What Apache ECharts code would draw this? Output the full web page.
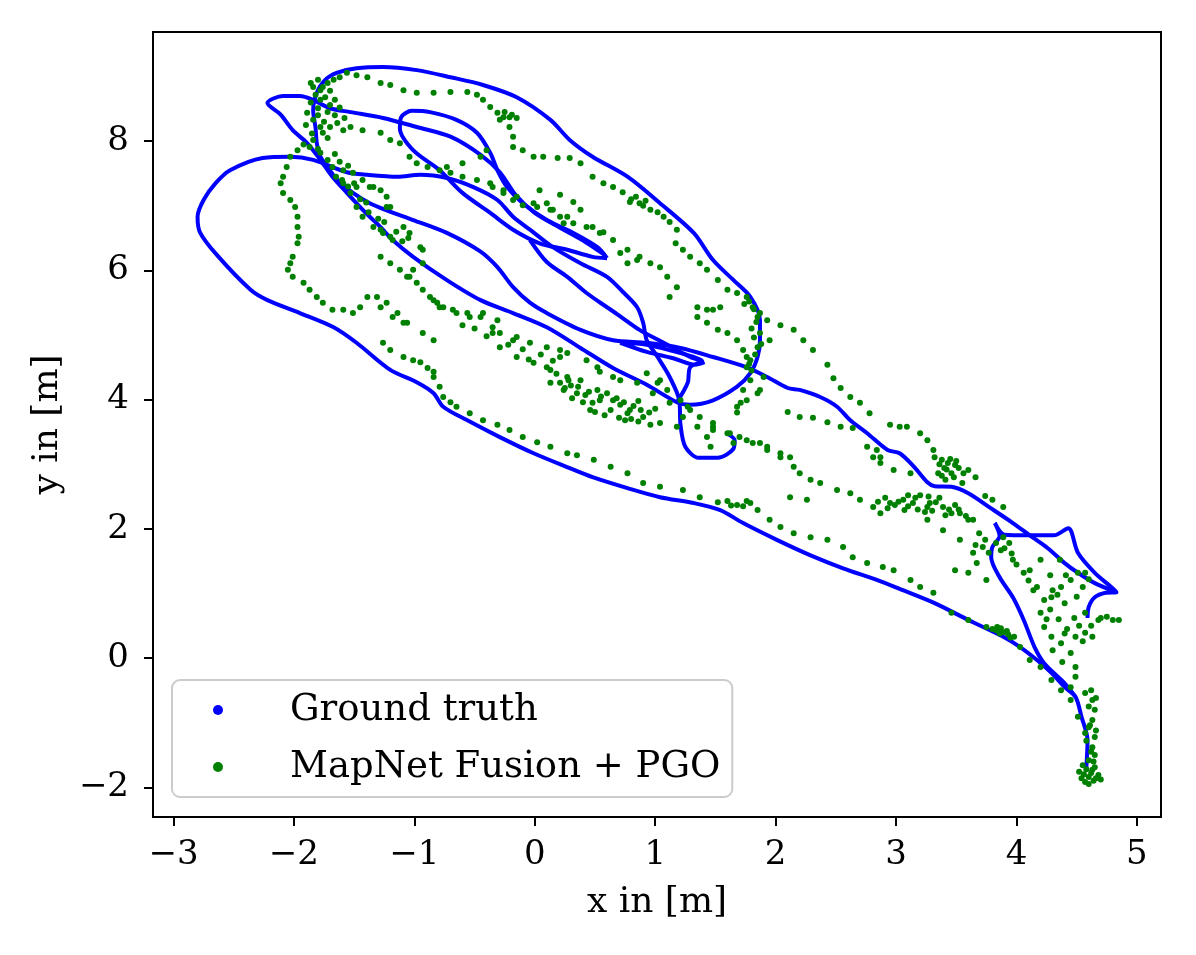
<!DOCTYPE html>
<html>
<head>
<meta charset="utf-8">
<title>Ground truth vs MapNet Fusion + PGO</title>
<script src="https://cdn.jsdelivr.net/npm/echarts@6/dist/echarts.min.js"></script>
<style>
  html, body { margin: 0; padding: 0; background: #fff; }
  #chart { width: 1196px; height: 955px; }
</style>
</head>
<body>
<div id="chart"></div>
<script>
// tick labels
const xTicks = [-3, -2, -1, 0, 1, 2, 3, 4, 5];
const yTicks = [-2, 0, 2, 4, 6, 8];

// ground truth, read off the picture as waypoints of the path
// tail -> lower outer edge -> big left loop -> down into the small lower loop
const truthOuter = [[4.58,-1.70],[4.59,-1.27],[4.54,-0.91],[4.49,-0.60],[4.40,-0.45],[4.29,-0.23],[4.17,-0.03],[4.03,0.17],[3.89,0.33],[3.60,0.59],[3.32,0.85],[3.03,1.07],[2.84,1.21],[2.56,1.39],[2.29,1.59],[2.01,1.83],[1.73,2.09],[1.54,2.29],[1.32,2.40],[1.04,2.49],[0.77,2.63],[0.48,2.80],[0.29,2.94],[-0.01,3.17],[-0.29,3.42],[-0.56,3.68],[-0.76,3.89],[-0.84,4.10],[-0.98,4.27],[-1.20,4.46],[-1.48,4.88],[-1.67,5.12],[-1.95,5.34],[-2.22,5.54],[-2.36,5.70],[-2.64,6.24],[-2.78,6.59],[-2.80,6.83],[-2.75,7.09],[-2.65,7.35],[-2.53,7.55],[-2.26,7.74],[-2.03,7.76],[-1.84,7.71],[-1.56,7.52],[-1.39,7.48],[-1.14,7.45],[-0.95,7.48],[-0.73,7.43],[-0.51,7.29],[-0.31,7.09],[-0.18,6.83],[-0.04,6.63],[0.15,6.36],[0.38,6.11],[0.60,5.90],[0.73,5.67],[0.85,5.43],[0.90,5.19],[0.93,4.92],[1.02,4.66],[1.12,4.35],[1.20,3.99],[1.21,3.61],[1.25,3.27],[1.36,3.10],[1.52,3.10],[1.65,3.24],[1.66,3.37],[1.60,3.47]];
// star point -> long diagonal -> top outer curve -> right side -> beak -> dotted line
const truthMain = [[4.83,1.02],[4.65,1.16],[4.51,1.32],[4.40,1.47],[4.26,1.70],[4.11,1.90],[3.97,2.09],[3.77,2.34],[3.60,2.55],[3.46,2.65],[3.32,2.66],[3.26,2.72],[3.15,2.96],[3.03,3.17],[2.93,3.22],[2.76,3.48],[2.62,3.68],[2.51,3.89],[2.37,4.04],[2.20,4.15],[2.10,4.18],[1.93,4.35],[1.76,4.50],[1.48,4.66],[1.21,4.80],[0.93,4.88],[0.65,4.92],[0.38,5.08],[0.10,5.34],[-0.04,5.50],[-0.18,5.74],[-0.31,6.05],[-0.45,6.29],[-0.73,6.58],[-1.01,6.78],[-1.23,6.93],[-1.37,7.04],[-1.51,7.20],[-1.64,7.40],[-1.72,7.60],[-1.78,7.76],[-1.81,7.97],[-1.82,8.20],[-1.84,8.48],[-1.81,8.75],[-1.74,8.95],[-1.64,9.06],[-1.48,9.13],[-1.26,9.15],[-0.98,9.10],[-0.70,8.99],[-0.43,8.87],[-0.15,8.68],[0.13,8.33],[0.29,8.02],[0.48,7.76],[0.77,7.45],[1.04,7.04],[1.32,6.58],[1.48,6.16],[1.65,5.85],[1.79,5.59],[1.87,5.23],[1.87,4.92],[1.85,4.66],[1.79,4.41],[1.68,4.20],[1.48,3.99],[1.29,3.92],[1.18,3.96],[0.93,4.23],[0.65,4.49],[0.38,4.80],[0.10,5.12],[-0.18,5.34],[-0.45,5.54],[-0.73,5.85],[-1.01,6.21],[-1.18,6.47],[-1.28,6.67],[-1.37,6.83],[-1.45,6.98],[-1.56,7.20],[-1.68,7.45],[-1.78,7.71],[-1.89,7.97],[-2.01,8.17],[-2.11,8.41],[-2.22,8.59],[-2.09,8.70],[-1.95,8.70],[-1.84,8.64],[-1.70,8.51],[-1.53,8.45],[-1.26,8.36],[-0.98,8.22],[-0.70,8.07],[-0.45,7.79],[-0.29,7.52],[-0.16,7.17],[0.00,6.89],[0.21,6.66],[0.42,6.44],[0.58,6.24]];
// narrow inner loop near the top
const truthInner = [[0.60,6.19],[0.52,6.36],[0.32,6.58],[0.10,6.78],[-0.10,7.04],[-0.23,7.29],[-0.31,7.55],[-0.37,7.82],[-0.48,8.13],[-0.65,8.33],[-0.87,8.45],[-1.02,8.47],[-1.11,8.37],[-1.12,8.20],[-1.01,7.86],[-0.79,7.55],[-0.60,7.20],[-0.37,6.89],[-0.18,6.63],[0.04,6.42],[0.27,6.32],[0.48,6.21],[0.60,6.19]];
// the knot in the middle
const truthKnot = [[1.18,3.96],[1.27,4.26],[1.29,4.50],[1.39,4.60],[1.32,4.66],[1.15,4.75],[0.93,4.85],[0.71,4.88],[0.93,4.74],[1.15,4.64],[1.33,4.54],[1.41,4.58]];
const truthLink = [[-0.04,6.47],[0.10,6.13],[0.27,5.90],[0.43,5.65],[0.60,5.43],[0.71,5.29],[0.87,5.08],[1.07,4.88],[1.29,4.66],[1.39,4.60]];
// star shaped turn on the right
const truthStar = [[4.59,0.62],[4.60,0.79],[4.65,0.94],[4.74,1.01],[4.83,1.02],[4.65,1.32],[4.51,1.63],[4.43,2.01],[4.31,1.90],[4.10,1.90],[3.90,1.91],[3.82,2.09],[3.86,1.89],[3.80,1.72],[3.79,1.56],[3.86,1.25],[3.97,0.94],[4.06,0.59],[4.15,0.17],[4.23,-0.08],[4.40,-0.39],[4.49,-0.60]];

// MapNet Fusion + PGO estimates
const mapnetLower = [[-1.26,4.88],[-1.20,4.77],[-1.09,4.66],[-1.01,4.61],[-0.95,4.58],[-0.89,4.49],[-0.84,4.43],[-0.84,4.35],[-0.79,4.20],[-0.76,4.04],[-0.70,3.96],[-0.65,3.89],[-0.54,3.79],[-0.43,3.68],[-0.31,3.61],[-0.21,3.53],[-0.10,3.42],[0.02,3.34],[0.13,3.27],[0.27,3.17],[0.35,3.14],[0.49,3.07],[0.63,2.96],[0.77,2.86],[0.90,2.71],[1.04,2.65],[1.23,2.60],[1.37,2.49],[1.52,2.41],[1.60,2.43],[1.63,2.36],[1.68,2.37],[1.73,2.35],[1.76,2.43],[1.79,2.40],[1.85,2.29],[1.95,2.14],[2.04,2.03],[2.15,1.93],[2.29,1.87],[2.43,1.83],[2.56,1.72],[2.64,1.56],[2.76,1.47],[2.89,1.41],[2.98,1.36],[3.12,1.21],[3.20,1.10],[3.31,1.01],[3.46,0.70],[3.60,0.59],[3.75,0.48],[3.83,0.43],[3.89,0.40],[3.87,0.46],[3.93,0.37],[3.98,0.33],[4.03,0.17],[4.11,-0.03],[4.20,-0.14],[4.29,-0.34],[4.37,-0.50],[4.45,-0.65],[4.51,-0.91],[4.57,-1.16],[4.63,-1.38],[4.60,-1.58],[4.63,-1.73],[4.60,-1.84],[4.65,-1.69],[4.52,-1.76],[4.68,-1.81],[4.57,-1.92],[4.64,-1.90],[4.55,-1.66],[4.65,-1.50],[4.61,-1.04],[3.80,0.45],[3.86,0.38],[3.92,0.42],[3.95,0.32],[3.84,0.48]];
const mapnetTail = [[4.56,-1.80],[4.60,-1.95],[4.66,-1.86],[4.62,-1.78],[4.54,-1.86],[4.70,-1.88],[4.58,-1.72],[4.64,-1.60],[4.62,-1.45],[4.58,-1.28],[4.66,-1.12],[4.60,-0.75],[4.66,-0.62],[4.62,-0.50]];
const mapnetMiddle = [[1.27,3.89],[1.37,3.73],[1.48,3.58],[1.60,3.48],[1.70,3.42],[1.81,3.33],[1.93,3.22],[2.04,3.11],[2.15,2.96],[2.20,2.86],[2.29,2.76],[2.37,2.71],[2.51,2.60],[2.62,2.55],[2.70,2.45],[2.81,2.34],[2.87,2.24],[2.95,2.40],[3.06,2.45],[3.14,2.40],[3.26,2.34],[3.39,2.34],[3.53,2.24],[3.64,2.14],[3.46,2.24],[3.60,2.14],[3.69,1.93],[3.72,1.72],[3.77,1.63],[3.83,1.78],[3.89,1.87],[3.94,1.78],[3.74,1.83],[3.87,1.67],[3.66,1.75],[3.26,2.14],[3.39,1.98],[3.53,1.83],[3.64,1.63],[3.49,1.36],[3.60,1.32],[3.75,1.21],[3.67,1.47],[2.91,2.48],[2.99,2.37],[3.07,2.29],[3.16,2.48],[3.24,2.26],[3.33,2.41],[3.41,2.21],[3.49,2.37],[3.20,2.52],[3.36,2.48],[2.12,2.49],[2.26,2.45],[2.85,2.42],[2.93,2.32],[3.02,2.42],[3.10,2.35],[3.18,2.30],[3.28,2.40],[3.30,2.28],[3.44,2.30],[3.52,2.30],[3.58,2.20],[3.10,2.52],[3.27,2.50]];
const mapnetRight = [[1.93,5.23],[2.04,5.15],[2.15,5.08],[2.23,4.92],[2.31,4.77],[2.43,4.54],[2.48,4.33],[2.54,4.18],[2.62,4.04],[2.70,3.95],[2.78,3.79],[2.95,3.61],[3.03,3.58],[3.09,3.58],[3.20,3.48],[3.26,3.37],[3.31,3.22],[2.10,3.81],[2.20,3.73],[2.31,3.72],[2.43,3.65],[2.54,3.58],[2.64,3.56],[2.76,3.27],[2.84,3.22],[2.87,3.11],[2.81,3.11],[2.87,3.02],[2.98,2.91],[3.12,2.86],[3.32,3.11],[3.38,3.07],[3.43,3.02],[3.35,2.86],[3.46,2.86],[3.41,2.76],[3.60,2.91],[3.66,2.80],[3.55,2.71],[3.49,2.99],[3.40,2.94],[3.74,2.51],[3.80,2.45],[3.89,2.34],[3.36,3.00],[3.45,3.08],[3.50,3.05],[3.42,2.92],[3.52,2.94],[3.38,2.82],[3.48,2.80],[3.56,2.86]];
const mapnetStar = [[3.97,1.52],[4.06,1.32],[4.17,1.10],[4.23,0.90],[4.20,0.70],[4.23,0.48],[4.29,0.33],[4.37,0.23],[4.45,0.08],[4.49,-0.14],[4.49,-0.29],[4.45,-0.45],[4.29,0.94],[4.37,1.10],[4.45,1.21],[4.51,1.32],[4.57,1.32],[4.57,0.70],[4.68,0.59],[4.80,0.59],[4.85,0.59],[4.49,0.33],[4.57,0.39],[4.63,0.33],[4.57,-0.54],[4.63,-0.65],[4.65,-0.80],[4.63,-0.96],[4.60,-1.07],[4.65,-1.22],[4.11,1.36],[4.20,1.52],[4.28,1.28],[4.36,1.52],[4.41,1.28],[3.90,1.70],[3.96,1.62],[4.00,1.45],[4.10,1.20],[4.14,1.05],[4.30,1.05],[4.34,0.98],[4.40,0.85],[4.25,0.60],[4.28,0.75],[4.35,0.60],[4.42,0.45],[4.52,0.50],[4.48,0.62],[4.55,0.26],[4.40,0.38],[4.30,0.12],[4.38,-0.06],[4.55,1.10],[4.50,0.95],[4.60,1.22],[4.70,0.62],[4.75,0.64],[4.62,0.50]];
const mapnetTop = [[-1.56,9.06],[-1.48,9.02],[-1.39,8.99],[-1.28,8.90],[-1.20,8.87],[-1.09,8.79],[-0.98,8.75],[-0.84,8.75],[-0.70,8.76],[-0.56,8.76],[-0.48,8.72],[-0.43,8.64],[-0.37,8.53],[-0.31,8.44],[-0.26,8.37],[-0.21,8.37],[-0.15,8.36],[-0.25,8.45],[-0.19,8.41],[-0.29,8.33],[-0.21,8.22],[-0.18,8.07],[-0.18,7.91],[-0.10,7.86],[-0.01,7.76],[0.07,7.76],[0.19,7.74],[0.29,7.74],[0.38,7.66],[0.48,7.45],[0.57,7.35],[0.65,7.29],[0.73,7.21],[0.79,7.06],[0.87,7.04],[0.96,6.94],[1.02,6.90],[1.07,6.83],[1.12,6.75],[1.18,6.63],[1.17,6.42],[1.23,6.32],[1.29,6.21],[1.37,6.11],[1.43,6.01],[1.52,5.85],[1.60,5.70],[1.68,5.65],[1.76,5.59],[1.81,5.43],[1.87,5.34],[1.85,5.28],[1.87,5.03],[1.85,4.81],[1.79,4.61],[1.76,4.50],[1.79,4.30],[1.85,4.10],[1.76,3.99],[1.68,3.89],[1.95,4.92],[1.90,4.35],[1.87,4.15],[0.80,7.10],[0.84,7.14],[0.90,7.00],[0.92,7.08],[1.74,5.48],[1.78,5.52],[1.82,5.40],[1.84,5.20],[1.80,5.10],[1.82,4.96],[1.88,4.86],[1.83,4.70],[1.78,4.55],[1.80,4.45]];
const mapnetUpper = [[-1.53,8.22],[-1.43,8.17],[-1.28,8.13],[-1.20,8.02],[-1.12,7.97],[-1.04,7.76],[-0.98,7.66],[-0.89,7.60],[-0.79,7.55],[-0.70,7.51],[-0.60,7.45],[-0.48,7.40],[-0.37,7.35],[-0.26,7.24],[-0.15,7.14],[-0.01,7.04],[0.13,6.94],[0.27,6.83],[-0.73,7.60],[-0.60,7.66],[-0.45,7.76],[-0.40,7.86],[-0.35,7.29],[-0.26,7.20],[-0.18,7.09],[-0.10,7.01],[0.02,6.98],[0.10,7.04],[0.15,6.94],[0.21,6.83],[0.32,6.73],[0.43,6.67],[0.54,6.58],[0.65,6.47],[0.04,7.24],[0.21,7.17],[0.32,7.06],[0.38,6.94],[0.24,6.73],[0.48,6.67],[0.57,6.59],[0.71,6.27],[0.77,6.11],[0.85,6.16],[0.96,6.11],[1.04,6.05],[1.10,5.90],[1.18,5.74],[1.12,5.59],[0.77,6.32],[0.87,6.21],[1.35,5.43],[1.43,5.39],[1.54,5.43],[1.35,5.28],[1.48,5.39],[1.43,5.19],[1.52,5.08],[1.60,5.03],[1.68,4.92],[1.73,4.77],[1.76,4.66],[1.73,4.15],[1.71,3.95],[1.68,3.80]];
const mapnetLeft = [[-1.84,8.84],[-1.78,8.79],[-1.72,8.90],[-1.67,8.95],[-1.62,8.99],[-1.82,8.72],[-1.78,8.64],[-1.74,8.68],[-1.70,8.56],[-1.80,8.51],[-1.72,8.45],[-1.66,8.64],[-1.89,8.44],[-1.84,8.33],[-1.78,8.22],[-1.76,8.13],[-1.70,8.22],[-1.64,8.28],[-1.59,8.17],[-1.84,8.02],[-1.87,7.91],[-1.78,7.82],[-1.72,7.71],[-1.68,7.60],[-1.59,7.55],[-1.51,7.51],[-1.43,7.40],[-1.34,7.29],[-1.28,7.24],[-1.23,7.14],[-1.20,6.98],[-1.97,7.86],[-2.03,7.76],[-2.06,7.60],[-2.09,7.45],[-2.11,7.35],[-2.09,7.20],[-2.03,7.09],[-1.99,6.98],[-1.97,6.83],[-1.97,6.67],[-1.96,6.52],[-1.97,6.42],[-2.01,6.21],[-2.03,6.11],[-2.05,6.01],[-2.01,5.90],[-1.92,5.81],[-1.87,5.70],[-1.81,5.59],[-1.76,5.50],[-1.68,5.39],[-1.59,5.39],[-1.51,5.34],[-1.45,5.43],[-1.39,5.59],[-1.31,5.59],[-1.23,5.50],[-1.14,5.34],[-1.06,5.19],[-0.93,5.03],[-0.84,4.92],[-1.59,7.35],[-1.53,7.20],[-1.48,6.98],[-1.43,6.83],[-1.34,6.67],[-1.26,6.58],[-1.20,6.52],[-1.09,6.67],[-1.04,6.58],[-1.28,6.21],[-1.20,6.11],[-1.12,6.01],[-1.04,5.90],[-0.98,5.81],[-0.93,6.11],[-0.93,6.32],[-0.93,5.70],[-0.87,5.59],[-0.81,5.50],[-0.76,5.43],[-0.65,5.34],[-0.54,5.28],[-0.43,5.34],[-0.31,5.23],[-1.48,7.29],[-1.37,7.29],[-1.23,6.98],[-1.28,6.63],[-1.18,6.47],[-0.95,6.36],[-1.01,6.01],[-1.06,5.90],[-0.84,5.54],[-0.79,5.43],[-0.68,5.39],[-0.56,5.34],[-0.45,5.28],[-0.35,5.12],[-0.29,5.03],[-0.18,4.92],[-0.04,4.88],[0.10,4.81],[0.21,4.77],[-1.28,5.43],[-1.18,5.28],[-1.09,5.19],[-0.35,5.03],[-0.29,4.81],[-0.15,4.66],[-0.01,4.57],[0.13,4.46],[0.27,4.35],[0.13,4.26],[0.24,4.15],[-0.15,4.97],[0.27,4.72],[-1.86,8.90],[-1.80,8.95],[-1.76,8.84],[-1.70,8.78],[-1.86,8.60],[-1.80,8.40],[-1.75,8.30],[-1.90,8.25],[-1.85,8.12],[-1.72,8.05],[-1.66,8.40],[-1.62,8.52],[-1.58,8.36],[-1.92,7.95],[-1.80,7.88],[-1.66,7.80],[-1.62,7.68],[-1.55,7.62],[-1.65,7.45],[-1.60,7.40],[-1.55,7.30],[-1.50,7.35],[-1.45,7.10],[-1.40,7.05],[-1.38,6.90],[-1.30,6.80],[-1.25,6.75],[-1.15,6.60],[-1.10,6.45],[-1.05,6.50],[-0.60,5.15],[-0.50,5.10],[-0.40,4.98],[-0.22,4.85],[-0.10,4.78],[0.05,4.70],[0.15,4.60],[-0.05,4.62]];
const mapnetCentre = [[0.21,4.66],[0.43,4.61],[0.54,4.43],[0.71,4.30],[0.85,4.26],[0.98,4.10],[1.12,3.95],[1.23,3.73],[0.21,4.26],[0.35,4.10],[0.48,3.95],[0.63,3.84],[0.77,3.79],[0.90,3.73],[1.04,3.64],[1.18,3.58],[0.93,4.41],[1.04,4.30],[0.52,4.50],[0.65,4.35],[1.02,4.26],[1.10,4.15],[1.21,3.99],[1.29,3.84],[1.48,3.64],[0.38,4.30],[0.52,4.15],[0.65,3.99],[0.79,3.84],[1.48,3.53],[1.62,3.48],[1.65,3.33],[1.76,3.37],[1.87,3.33],[1.93,3.27],[2.04,3.17],[2.12,3.11],[1.35,3.58],[1.43,3.42],[1.46,3.27],[0.25,4.18],[0.31,4.02],[0.42,4.07],[0.46,3.84],[0.54,3.99],[0.58,3.76],[0.71,3.92],[0.75,3.68],[0.88,3.84],[0.96,3.61],[0.40,3.96],[0.50,3.81],[0.30,4.22],[0.36,4.20],[0.45,4.12],[0.55,4.05],[0.60,4.10],[0.68,4.02],[0.74,3.96],[0.82,3.90],[0.86,3.98],[0.95,3.80],[1.00,3.86],[0.28,4.30],[0.18,4.40],[0.10,4.50],[0.70,3.72],[0.80,3.70],[0.86,3.66]];

const truthSegments = [truthOuter, truthMain, truthInner, truthKnot, truthLink, truthStar];
const mapnetPoints = [].concat(mapnetLower, mapnetTail, mapnetMiddle, mapnetRight, mapnetStar,
  mapnetTop, mapnetUpper, mapnetLeft, mapnetCentre);

const FONT = 'DejaVu Serif';
const BLUE = '#0000ff';
const GREEN = '#008000';

function tickText(v) {
  return v < 0 ? '\u2212' + Math.abs(v) : String(v);
}

const chart = echarts.init(document.getElementById('chart'), null, { renderer: 'canvas' });

const series = truthSegments.map((seg) => ({
  name: 'Ground truth',
  type: 'line',
  data: seg,
  smooth: 0.3,
  showSymbol: false,
  symbol: 'circle',
  lineStyle: { color: BLUE, width: 4 },
  itemStyle: { color: BLUE },
  z: 2
}));
series.push({
  name: 'MapNet Fusion + PGO',
  type: 'scatter',
  data: mapnetPoints,
  symbol: 'circle',
  symbolSize: 6,
  itemStyle: { color: GREEN, opacity: 1 },
  z: 3
});

chart.setOption({
  animation: false,
  backgroundColor: '#ffffff',
  grid: {
    left: 153, right: 35, top: 32, bottom: 138,
    show: true, borderColor: '#000', borderWidth: 2, backgroundColor: 'transparent'
  },
  xAxis: {
    type: 'value',
    min: -3.17, max: 5.2,
    name: 'x in [m]',
    nameLocation: 'middle',
    nameGap: 68,
    nameTextStyle: { fontFamily: FONT, fontSize: 36, color: '#000' },
    axisLine: { show: true, onZero: false, lineStyle: { color: '#000', width: 2 } },
    axisTick: { show: true, customValues: xTicks, length: 9, lineStyle: { color: '#000', width: 2 } },
    axisLabel: { customValues: xTicks, formatter: tickText, fontFamily: FONT, fontSize: 34, color: '#000', margin: 21 },
    splitLine: { show: false }
  },
  yAxis: {
    type: 'value',
    min: -2.46, max: 9.69,
    name: 'y in [m]',
    nameLocation: 'middle',
    nameGap: 87,
    nameTextStyle: { fontFamily: FONT, fontSize: 36, color: '#000' },
    axisLine: { show: true, onZero: false, lineStyle: { color: '#000', width: 2 } },
    axisTick: { show: true, customValues: yTicks, length: 9, lineStyle: { color: '#000', width: 2 } },
    axisLabel: { customValues: yTicks, formatter: tickText, fontFamily: FONT, fontSize: 34, color: '#000', margin: 24 },
    splitLine: { show: false }
  },
  legend: {
    orient: 'vertical',
    left: 172,
    top: 680,
    data: [
      { name: 'Ground truth', icon: 'circle' },
      { name: 'MapNet Fusion + PGO', icon: 'circle' }
    ],
    itemWidth: 10,
    itemHeight: 10,
    itemGap: 17,
    padding: [10, 12, 10, 41],
    backgroundColor: 'rgba(255,255,255,0.8)',
    borderColor: '#cccccc',
    borderWidth: 2,
    borderRadius: 8,
    textStyle: { fontFamily: FONT, fontSize: 37, color: '#000', lineHeight: 40, padding: [0, 0, 0, 62] }
  },
  series: series
});
</script>
</body>
</html>
